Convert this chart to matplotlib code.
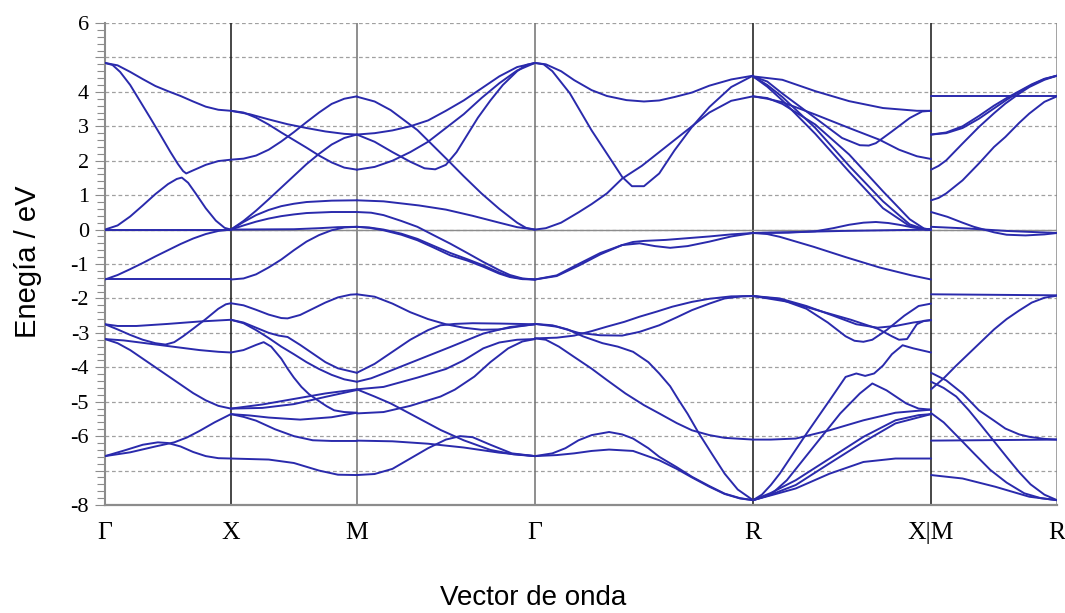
import numpy as np
import matplotlib.pyplot as plt
from matplotlib.ticker import MultipleLocator

plt.rcParams['axes.unicode_minus'] = False

# Camino en la zona de Brillouin (unidades de 2*pi/a)
etiquetas_k = ['Γ', 'X', 'M', 'Γ', 'R', 'X|M', 'R']
pos_k = [0.0, 0.5, 1.0, 1.7071, 2.5731, 3.2802, 3.7802]
color_vert = ['#808080', '#151515', '#707070', '#707070', '#151515', '#151515', '#8a8a8a']

# Bandas por tramo: pares (fraccion del tramo, energia en eV)
bandas_GX = [
    [(0, 4.84), (0.1, 4.77), (0.2, 4.58), (0.3, 4.37), (0.4, 4.17), (0.5, 4.02), (0.6, 3.88), (0.7, 3.72), (0.8, 3.57), (0.9, 3.48), (1, 3.45)],
    [(0, 4.84), (0.06, 4.78), (0.12, 4.58), (0.2, 4.2), (0.28, 3.72), (0.36, 3.24), (0.44, 2.75), (0.52, 2.25), (0.58, 1.9), (0.62, 1.7), (0.645, 1.63), (0.7, 1.72), (0.8, 1.88), (0.9, 1.99), (1, 2.03)],
    [(0, 0), (0.1, 0.12), (0.2, 0.38), (0.3, 0.7), (0.4, 1.03), (0.5, 1.32), (0.57, 1.47), (0.61, 1.51), (0.66, 1.36), (0.72, 1.05), (0.8, 0.62), (0.88, 0.26), (0.95, 0.05), (1, 0)],
    [(0, 0), (1, 0)],
    [(0, -1.45), (0.1, -1.32), (0.2, -1.15), (0.3, -0.97), (0.4, -0.78), (0.5, -0.6), (0.6, -0.42), (0.7, -0.26), (0.8, -0.13), (0.9, -0.04), (1, 0)],
    [(0, -1.45), (1, -1.45)],
    [(0, -2.75), (0.1, -2.8), (0.25, -2.8), (0.5, -2.74), (0.75, -2.67), (1, -2.62)],
    [(0, -2.75), (0.1, -2.9), (0.2, -3.06), (0.3, -3.2), (0.4, -3.3), (0.48, -3.34), (0.55, -3.27), (0.62, -3.1), (0.7, -2.88), (0.8, -2.6), (0.9, -2.3), (0.96, -2.17), (1, -2.14)],
    [(0, -3.18), (0.15, -3.22), (0.3, -3.29), (0.45, -3.36), (0.6, -3.43), (0.75, -3.5), (0.9, -3.55), (1, -3.57)],
    [(0, -3.18), (0.1, -3.3), (0.2, -3.5), (0.3, -3.75), (0.4, -4.0), (0.5, -4.25), (0.6, -4.5), (0.7, -4.75), (0.8, -4.96), (0.9, -5.12), (1, -5.2)],
    [(0, -6.58), (0.2, -6.47), (0.4, -6.3), (0.55, -6.18), (0.65, -6.04), (0.75, -5.85), (0.87, -5.6), (1, -5.36)],
    [(0, -6.58), (0.15, -6.42), (0.3, -6.25), (0.42, -6.18), (0.5, -6.2), (0.6, -6.3), (0.7, -6.46), (0.8, -6.58), (0.9, -6.64), (1, -6.65)],
]

bandas_XM = [
    [(0, 3.45), (0.15, 3.35), (0.3, 3.2), (0.45, 3.06), (0.6, 2.95), (0.75, 2.85), (0.9, 2.78), (1, 2.76)],
    [(0, 3.45), (0.1, 3.4), (0.2, 3.25), (0.3, 3.05), (0.4, 2.82), (0.5, 2.6), (0.6, 2.38), (0.7, 2.15), (0.8, 1.95), (0.9, 1.8), (1, 1.74)],
    [(0, 2.03), (0.1, 2.06), (0.2, 2.15), (0.3, 2.32), (0.4, 2.56), (0.5, 2.83), (0.6, 3.12), (0.7, 3.4), (0.8, 3.65), (0.9, 3.8), (1, 3.87)],
    [(0, 0), (0.1, 0.25), (0.2, 0.55), (0.3, 0.88), (0.4, 1.22), (0.5, 1.56), (0.6, 1.9), (0.7, 2.2), (0.8, 2.47), (0.9, 2.66), (1, 2.76)],
    [(0, 0), (0.1, 0.22), (0.2, 0.42), (0.3, 0.57), (0.4, 0.68), (0.5, 0.75), (0.6, 0.8), (0.8, 0.84), (1, 0.85)],
    [(0, 0), (0.1, 0.12), (0.2, 0.23), (0.3, 0.32), (0.4, 0.39), (0.5, 0.44), (0.6, 0.48), (0.8, 0.51), (1, 0.51)],
    [(0, 0), (0.5, 0.01), (0.7, 0.04), (0.85, 0.07), (1, 0.08)],
    [(0, -1.45), (0.1, -1.42), (0.2, -1.3), (0.3, -1.1), (0.4, -0.87), (0.5, -0.6), (0.6, -0.35), (0.7, -0.16), (0.8, -0.02), (0.9, 0.06), (1, 0.08)],
    [(0, -2.14), (0.1, -2.2), (0.2, -2.33), (0.3, -2.47), (0.4, -2.57), (0.45, -2.58), (0.55, -2.48), (0.65, -2.3), (0.75, -2.12), (0.85, -1.97), (0.95, -1.89), (1, -1.88)],
    [(0, -2.62), (0.1, -2.7), (0.2, -2.85), (0.3, -3.0), (0.38, -3.08), (0.45, -3.12), (0.55, -3.35), (0.65, -3.6), (0.75, -3.85), (0.85, -4.03), (1, -4.16)],
    [(0, -2.62), (0.1, -2.72), (0.2, -2.92), (0.3, -3.15), (0.4, -3.4), (0.5, -3.62), (0.6, -3.85), (0.7, -4.05), (0.8, -4.22), (0.9, -4.35), (1, -4.42)],
    [(0, -3.57), (0.1, -3.5), (0.2, -3.35), (0.26, -3.27), (0.32, -3.4), (0.4, -3.75), (0.45, -4.04), (0.5, -4.3), (0.56, -4.57), (0.62, -4.78), (0.69, -4.96), (0.76, -5.13), (0.82, -5.25), (0.9, -5.3), (1, -5.32)],
    [(0, -5.2), (0.25, -5.08), (0.5, -4.92), (0.75, -4.76), (1, -4.64)],
    [(0, -5.2), (0.25, -5.18), (0.5, -5.07), (0.75, -4.86), (1, -4.66)],
    [(0, -5.36), (0.15, -5.4), (0.3, -5.46), (0.55, -5.52), (0.8, -5.45), (1, -5.32)],
    [(0, -5.36), (0.1, -5.44), (0.2, -5.55), (0.35, -5.8), (0.5, -6.0), (0.65, -6.12), (0.8, -6.14), (1, -6.14)],
    [(0, -6.65), (0.3, -6.68), (0.5, -6.78), (0.7, -7.0), (0.85, -7.12), (1, -7.13)],
]

bandas_MG = [
    [(0, 3.86), (0.1, 3.72), (0.19, 3.47), (0.34, 2.89), (0.51, 2.02), (0.6, 1.55), (0.7, 1.05), (0.8, 0.6), (0.9, 0.2), (0.95, 0.05), (1, 0)],
    [(0, 2.76), (0.1, 2.8), (0.2, 2.88), (0.3, 3.0), (0.4, 3.17), (0.5, 3.45), (0.6, 3.75), (0.7, 4.1), (0.8, 4.45), (0.9, 4.72), (1, 4.84)],
    [(0, 2.76), (0.1, 2.55), (0.2, 2.25), (0.3, 1.97), (0.38, 1.78), (0.44, 1.75), (0.5, 1.88), (0.56, 2.25), (0.62, 2.75), (0.68, 3.25), (0.75, 3.75), (0.82, 4.2), (0.9, 4.6), (0.95, 4.78), (1, 4.84)],
    [(0, 1.74), (0.1, 1.82), (0.2, 2.0), (0.3, 2.25), (0.4, 2.55), (0.5, 2.95), (0.6, 3.35), (0.7, 3.82), (0.8, 4.25), (0.9, 4.62), (1, 4.84)],
    [(0, 0.85), (0.15, 0.82), (0.35, 0.7), (0.5, 0.58), (0.65, 0.4), (0.8, 0.2), (0.9, 0.07), (1, 0)],
    [(0, 0.51), (0.08, 0.49), (0.15, 0.42), (0.25, 0.25), (0.34, 0.08), (0.43, -0.16), (0.525, -0.41), (0.62, -0.68), (0.71, -0.94), (0.8, -1.18), (0.86, -1.32), (0.93, -1.42), (1, -1.45)],
    [(0, 0.08), (0.07, 0.05), (0.15, -0.02), (0.25, -0.15), (0.34, -0.31), (0.43, -0.52), (0.525, -0.75), (0.62, -0.9), (0.71, -1.08), (0.8, -1.28), (0.86, -1.38), (0.93, -1.44), (1, -1.45)],
    [(0, 0.08), (0.07, 0.06), (0.15, 0.0), (0.25, -0.12), (0.34, -0.27), (0.43, -0.47), (0.525, -0.68), (0.62, -0.86), (0.71, -1.04), (0.8, -1.25), (0.86, -1.36), (0.93, -1.43), (1, -1.45)],
    [(0, -1.88), (0.1, -1.95), (0.2, -2.15), (0.3, -2.4), (0.4, -2.6), (0.5, -2.75), (0.6, -2.85), (0.7, -2.91), (0.8, -2.9), (0.9, -2.82), (1, -2.75)],
    [(0, -4.16), (0.1, -3.9), (0.2, -3.55), (0.3, -3.2), (0.4, -2.92), (0.47, -2.78), (0.55, -2.74), (0.65, -2.72), (0.8, -2.73), (1, -2.75)],
    [(0, -4.42), (0.08, -4.32), (0.15, -4.18), (0.34, -3.79), (0.525, -3.41), (0.71, -3.02), (0.86, -2.83), (1, -2.75)],
    [(0, -4.64), (0.15, -4.57), (0.34, -4.3), (0.5, -4.05), (0.6, -3.8), (0.71, -3.45), (0.8, -3.28), (0.9, -3.2), (1, -3.18)],
    [(0, -5.34), (0.15, -5.3), (0.3, -5.12), (0.47, -4.85), (0.55, -4.65), (0.66, -4.27), (0.75, -3.85), (0.85, -3.45), (0.93, -3.25), (1, -3.18)],
    [(0, -4.64), (0.1, -4.85), (0.19, -5.05), (0.3, -5.35), (0.47, -5.82), (0.6, -6.12), (0.75, -6.4), (0.88, -6.53), (1, -6.58)],
    [(0, -6.13), (0.2, -6.15), (0.4, -6.22), (0.6, -6.33), (0.8, -6.48), (1, -6.58)],
    [(0, -7.13), (0.1, -7.1), (0.2, -6.95), (0.3, -6.65), (0.4, -6.35), (0.5, -6.1), (0.58, -6.0), (0.65, -6.03), (0.75, -6.25), (0.87, -6.5), (1, -6.58)],
]

bandas_GR = [
    [(0, 4.84), (0.05, 4.8), (0.12, 4.6), (0.18, 4.34), (0.26, 4.05), (0.33, 3.88), (0.42, 3.76), (0.5, 3.72), (0.57, 3.75), (0.64, 3.85), (0.72, 3.98), (0.8, 4.18), (0.9, 4.36), (1, 4.47)],
    [(0, 4.84), (0.04, 4.8), (0.08, 4.6), (0.16, 3.96), (0.26, 2.88), (0.34, 2.11), (0.4, 1.53), (0.445, 1.26), (0.5, 1.26), (0.57, 1.63), (0.64, 2.3), (0.72, 2.98), (0.8, 3.56), (0.9, 4.14), (1, 4.47)],
    [(0, 0), (0.05, 0.04), (0.12, 0.2), (0.2, 0.5), (0.26, 0.74), (0.33, 1.05), (0.4, 1.48), (0.49, 1.85), (0.57, 2.25), (0.64, 2.6), (0.72, 3.0), (0.8, 3.4), (0.9, 3.74), (1, 3.87)],
    [(0, -1.45), (0.1, -1.35), (0.2, -1.05), (0.3, -0.72), (0.4, -0.45), (0.45, -0.36), (0.5, -0.33), (0.6, -0.3), (0.7, -0.25), (0.8, -0.2), (0.9, -0.14), (1, -0.1)],
    [(0, -1.45), (0.1, -1.33), (0.2, -1.0), (0.3, -0.68), (0.4, -0.45), (0.48, -0.4), (0.55, -0.48), (0.62, -0.53), (0.7, -0.48), (0.8, -0.35), (0.9, -0.2), (1, -0.1)],
    [(0, -2.74), (0.08, -2.78), (0.15, -2.9), (0.22, -3.1), (0.31, -3.3), (0.38, -3.4), (0.45, -3.55), (0.52, -3.85), (0.57, -4.18), (0.62, -4.55), (0.66, -4.96), (0.7, -5.35), (0.75, -5.9), (0.81, -6.5), (0.87, -7.09), (0.93, -7.55), (1, -7.86)],
    [(0, -3.16), (0.05, -3.2), (0.11, -3.4), (0.18, -3.7), (0.26, -4.04), (0.33, -4.37), (0.415, -4.76), (0.5, -5.1), (0.57, -5.34), (0.65, -5.62), (0.72, -5.83), (0.8, -5.97), (0.87, -6.05), (1, -6.1)],
    [(0, -3.16), (0.1, -3.14), (0.18, -3.08), (0.26, -2.95), (0.33, -2.82), (0.41, -2.68), (0.48, -2.53), (0.56, -2.38), (0.63, -2.24), (0.72, -2.1), (0.8, -2.01), (0.9, -1.94), (1, -1.93)],
    [(0, -2.74), (0.1, -2.82), (0.2, -3.0), (0.3, -3.07), (0.4, -3.08), (0.48, -2.97), (0.57, -2.78), (0.65, -2.55), (0.72, -2.34), (0.8, -2.15), (0.87, -2.0), (0.95, -1.94), (1, -1.93)],
    [(0, -6.58), (0.08, -6.5), (0.14, -6.35), (0.2, -6.12), (0.26, -5.97), (0.34, -5.88), (0.4, -5.95), (0.45, -6.07), (0.52, -6.35), (0.57, -6.6), (0.65, -6.9), (0.72, -7.18), (0.8, -7.45), (0.87, -7.67), (0.94, -7.8), (1, -7.86)],
    [(0, -6.58), (0.1, -6.55), (0.18, -6.5), (0.26, -6.43), (0.34, -6.39), (0.45, -6.43), (0.57, -6.7), (0.65, -6.95), (0.72, -7.2), (0.8, -7.47), (0.87, -7.68), (0.94, -7.81), (1, -7.86)],
]

bandas_RX = [
    [(0, 4.45), (0.165, 4.35), (0.35, 4.02), (0.54, 3.73), (0.73, 3.53), (0.92, 3.45), (1, 3.45)],
    [(0, 4.45), (0.08, 4.3), (0.165, 3.95), (0.35, 3.24), (0.5, 2.66), (0.6, 2.45), (0.65, 2.44), (0.69, 2.51), (0.78, 2.85), (0.88, 3.24), (0.95, 3.43), (1, 3.45)],
    [(0, 3.87), (0.08, 3.8), (0.165, 3.7), (0.35, 3.34), (0.54, 2.95), (0.71, 2.61), (0.82, 2.32), (0.92, 2.13), (1, 2.05)],
    [(0, 4.45), (0.08, 4.2), (0.165, 3.85), (0.35, 2.95), (0.54, 1.85), (0.73, 0.82), (0.88, 0.15), (0.97, 0.0), (1, 0)],
    [(0, 4.45), (0.08, 4.15), (0.165, 3.75), (0.35, 2.78), (0.54, 1.68), (0.73, 0.62), (0.88, 0.1), (0.97, 0.0), (1, 0)],
    [(0, 3.87), (0.08, 3.82), (0.165, 3.65), (0.35, 3.05), (0.54, 2.18), (0.73, 1.11), (0.88, 0.3), (0.96, 0.03), (1, 0)],
    [(0, -0.1), (0.2, -0.09), (0.35, -0.05), (0.45, 0.04), (0.54, 0.14), (0.62, 0.2), (0.69, 0.22), (0.76, 0.19), (0.82, 0.14), (0.9, 0.06), (1, 0)],
    [(0, -0.1), (0.5, -0.04), (1, 0)],
    [(0, -0.1), (0.08, -0.13), (0.15, -0.21), (0.34, -0.5), (0.52, -0.8), (0.71, -1.1), (0.89, -1.33), (1, -1.45)],
    [(0, -1.93), (0.15, -2.0), (0.3, -2.22), (0.45, -2.5), (0.58, -2.75), (0.7, -2.85), (0.8, -2.8), (0.9, -2.7), (1, -2.63)],
    [(0, -1.93), (0.15, -2.02), (0.3, -2.3), (0.42, -2.7), (0.52, -3.1), (0.57, -3.23), (0.62, -3.26), (0.67, -3.2), (0.75, -2.92), (0.85, -2.5), (0.93, -2.22), (1, -2.15)],
    [(0, -1.93), (0.2, -2.1), (0.4, -2.4), (0.55, -2.62), (0.7, -2.88), (0.78, -3.1), (0.82, -3.2), (0.865, -3.18), (0.92, -2.75), (0.96, -2.65), (1, -2.63)],
    [(0, -7.86), (0.05, -7.7), (0.1, -7.42), (0.15, -7.09), (0.3, -5.93), (0.43, -4.96), (0.52, -4.28), (0.58, -4.18), (0.63, -4.25), (0.68, -4.18), (0.73, -3.95), (0.78, -3.62), (0.84, -3.36), (0.9, -3.45), (1, -3.57)],
    [(0, -7.86), (0.1, -7.7), (0.19, -7.28), (0.34, -6.31), (0.49, -5.34), (0.6, -4.76), (0.67, -4.47), (0.75, -4.67), (0.86, -5.05), (0.93, -5.2), (1, -5.23)],
    [(0, -6.1), (0.1, -6.1), (0.24, -6.07), (0.43, -5.83), (0.62, -5.54), (0.8, -5.32), (1, -5.23)],
    [(0, -7.86), (0.1, -7.65), (0.24, -7.28), (0.43, -6.65), (0.62, -6.02), (0.8, -5.54), (0.93, -5.39), (1, -5.36)],
    [(0, -7.86), (0.1, -7.7), (0.24, -7.42), (0.43, -6.79), (0.62, -6.17), (0.8, -5.63), (1, -5.36)],
    [(0, -7.86), (0.1, -7.72), (0.24, -7.52), (0.43, -7.09), (0.62, -6.75), (0.8, -6.65), (1, -6.65)],
]

bandas_MR = [
    [(0, 3.87), (1, 3.87)],
    [(0, 2.76), (0.12, 2.82), (0.25, 3.0), (0.38, 3.3), (0.5, 3.6), (0.6, 3.82), (0.7, 4.02), (0.8, 4.22), (0.9, 4.38), (1, 4.47)],
    [(0, 2.76), (0.12, 2.8), (0.25, 2.95), (0.38, 3.22), (0.5, 3.52), (0.6, 3.77), (0.7, 4.0), (0.8, 4.2), (0.9, 4.37), (1, 4.47)],
    [(0, 1.74), (0.06, 1.85), (0.12, 2.01), (0.25, 2.5), (0.38, 2.98), (0.5, 3.38), (0.59, 3.66), (0.7, 3.95), (0.78, 4.14), (0.9, 4.35), (1, 4.47)],
    [(0, 0.85), (0.06, 0.92), (0.12, 1.05), (0.25, 1.43), (0.38, 1.92), (0.5, 2.4), (0.59, 2.69), (0.7, 3.1), (0.78, 3.37), (0.9, 3.71), (1, 3.87)],
    [(0, 0.51), (0.13, 0.37), (0.25, 0.2), (0.34, 0.08), (0.5, -0.08), (0.6, -0.15), (0.75, -0.17), (0.9, -0.14), (1, -0.1)],
    [(0, 0.08), (0.3, 0.03), (0.6, -0.04), (1, -0.1)],
    [(0, -1.88), (1, -1.91)],
    [(0, -4.64), (0.1, -4.32), (0.2, -3.95), (0.3, -3.6), (0.4, -3.25), (0.5, -2.9), (0.6, -2.6), (0.7, -2.35), (0.8, -2.12), (0.9, -1.98), (1, -1.92)],
    [(0, -4.16), (0.12, -4.38), (0.25, -4.76), (0.38, -5.25), (0.5, -5.55), (0.59, -5.78), (0.7, -5.95), (0.78, -6.02), (0.9, -6.08), (1, -6.1)],
    [(0, -4.42), (0.1, -4.6), (0.2, -4.85), (0.3, -5.25), (0.39, -5.65), (0.5, -6.15), (0.61, -6.65), (0.7, -7.05), (0.79, -7.4), (0.9, -7.7), (1, -7.86)],
    [(0, -5.33), (0.1, -5.6), (0.21, -6.01), (0.34, -6.5), (0.47, -6.98), (0.6, -7.35), (0.74, -7.66), (0.87, -7.8), (1, -7.86)],
    [(0, -6.13), (1, -6.1)],
    [(0, -7.13), (0.25, -7.23), (0.51, -7.47), (0.78, -7.76), (1, -7.86)],
]

# (indice inicial, indice final, bandas) de cada tramo
tramos = [(0, 1, bandas_GX), (1, 2, bandas_XM), (2, 3, bandas_MG),
          (3, 4, bandas_GR), (4, 5, bandas_RX), (5, 6, bandas_MR)]

fig = plt.figure(figsize=(10.65, 6.13), dpi=100)
ax = fig.add_axes([105/1065, 1 - 505/613, (1057 - 105)/1065, (505 - 23)/613])

color_banda = '#2a2aac'
for i0, i1, bandas in tramos:
    k0, k1 = pos_k[i0], pos_k[i1]
    for b in bandas:
        t, e = np.array(b).T
        ax.plot(k0 + t*(k1 - k0), e, color=color_banda, lw=1.4, zorder=3,
                solid_capstyle='round', solid_joinstyle='round')

# lineas verticales en los puntos de alta simetria
for x, c in zip(pos_k[1:], color_vert[1:]):
    ax.axvline(x, color=c, lw=1.1, zorder=2)
ax.axhline(0, color='#8c8c8c', lw=1.0, zorder=2)

ax.set_xlim(pos_k[0], pos_k[-1])
ax.set_ylim(-8, 6)

niveles = list(range(-8, 7))
ax.set_yticks(niveles)
ax.set_yticklabels(['' if v in (5, -7) else str(v) for v in niveles],
                   fontfamily='Liberation Serif', fontsize=16)
ax.yaxis.set_minor_locator(MultipleLocator(0.2))
ax.tick_params(axis='y', which='major', length=7.5, width=0.8, color='#8c8c8c', pad=4)
ax.tick_params(axis='y', which='minor', length=5.5, width=0.8, color='#8c8c8c')
ax.yaxis.grid(True, which='major', linestyle=(0, (3, 2.2)), color='#a0a0a0', lw=0.9)
ax.set_axisbelow(True)

ax.set_xticks(pos_k)
ax.set_xticklabels(etiquetas_k, fontfamily='Liberation Serif', fontsize=18.5)
ax.tick_params(axis='x', length=0, pad=12)

for lado in ['top', 'right']:
    ax.spines[lado].set_visible(False)
ax.spines['left'].set_color('#8c8c8c')
ax.spines['left'].set_linewidth(1.5)
ax.spines['bottom'].set_color('#8c8c8c')
ax.spines['bottom'].set_linewidth(1.6)

fig.text(28/1065, 1 - 262/613, 'Enegía / eV', rotation=90, ha='center', va='center',
         fontfamily='Liberation Sans', fontsize=21)
fig.text(533/1065, 1 - 598/613, 'Vector de onda', ha='center', va='center',
         fontfamily='Liberation Sans', fontsize=20)

plt.savefig('out.png', dpi=100)
